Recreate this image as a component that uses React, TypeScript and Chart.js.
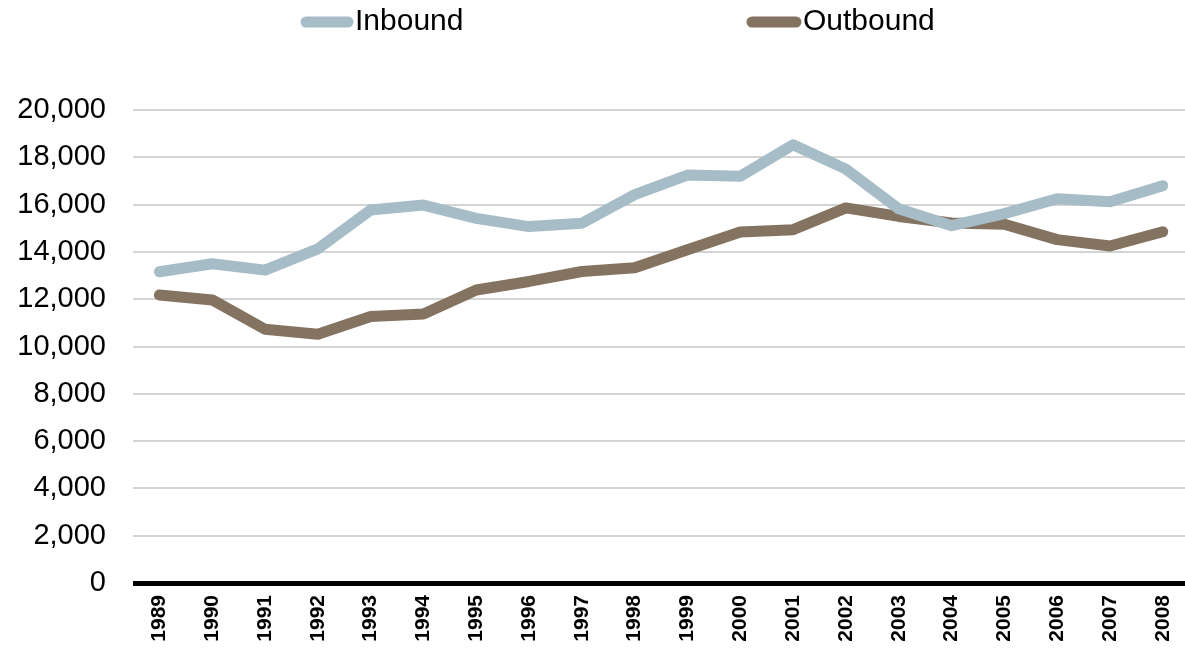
import React, { useEffect, useRef } from "react";
import { Chart, registerables } from "chart.js";

Chart.register(...registerables);

const years = ["1989", "1990", "1991", "1992", "1993", "1994", "1995", "1996", "1997", "1998", "1999", "2000", "2001", "2002", "2003", "2004", "2005", "2006", "2007", "2008"];
const inbound = [13160, 13500, 13230, 14130, 15770, 15980, 15420, 15070, 15210, 16420, 17250, 17200, 18530, 17500, 15820, 15110, 15620, 16250, 16120, 16800];
const outbound = [12180, 11970, 10730, 10520, 11270, 11370, 12390, 12750, 13170, 13330, 14090, 14840, 14940, 15860, 15500, 15220, 15170, 14520, 14250, 14850];
const seriesNames = ["Inbound", "Outbound"];
const seriesColors = ["#A6BCC6", "#857361"];

const FONT = "'Liberation Sans', Arial, sans-serif";

const legendPlugin = {
  id: "topLegend",
  afterDraw(chart: any) {
    const ctx = chart.ctx;
    const items = [
      { x1: 306, x2: 348, tx: 355 },
      { x1: 752, x2: 796, tx: 803 },
    ];
    const y = 22;
    ctx.save();
    chart.data.datasets.forEach((ds: any, i: number) => {
      const it = items[i];
      ctx.beginPath();
      ctx.strokeStyle = ds.borderColor;
      ctx.lineWidth = 11;
      ctx.lineCap = "round";
      ctx.moveTo(it.x1, y);
      ctx.lineTo(it.x2, y);
      ctx.stroke();
      ctx.fillStyle = "#000";
      ctx.font = `30px ${FONT}`;
      ctx.textBaseline = "middle";
      ctx.textAlign = "left";
      ctx.fillText(ds.label, it.tx, y);
    });
    ctx.restore();
  },
};

export default function App() {
  const ref = useRef<HTMLCanvasElement | null>(null);

  useEffect(() => {
    if (!ref.current) return;
    const chart = new Chart(ref.current, {
      type: "line",
      data: {
        labels: years,
        datasets: [
          {
            label: seriesNames[0],
            data: inbound,
            borderColor: seriesColors[0],
            backgroundColor: seriesColors[0],
            borderWidth: 11,
            borderCapStyle: "round",
            borderJoinStyle: "round",
            pointRadius: 0,
            tension: 0,
          },
          {
            label: seriesNames[1],
            data: outbound,
            borderColor: seriesColors[1],
            backgroundColor: seriesColors[1],
            borderWidth: 11,
            borderCapStyle: "round",
            borderJoinStyle: "round",
            pointRadius: 0,
            tension: 0,
          },
        ],
      },
      options: {
        animation: false,
        responsive: true,
        maintainAspectRatio: false,
        layout: { padding: { top: 110, right: 1, left: 0, bottom: 0 } },
        plugins: {
          legend: { display: false },
          tooltip: { enabled: false },
        },
        scales: {
          x: {
            offset: true,
            grid: { display: false, drawTicks: false },
            border: { display: false },
            ticks: {
              color: "#000",
              font: { family: FONT, size: 21, weight: "bold" },
              maxRotation: 90,
              minRotation: 90,
              padding: 12,
              autoSkip: false,
            },
            afterFit(scale: any) {
              scale.height = 66;
            },
          },
          y: {
            min: 0,
            max: 20000,
            grid: {
              drawTicks: false,
              color: (c: any) => (c.tick && c.tick.value === 0 ? "#000" : "#D4D4D4"),
              lineWidth: (c: any) => (c.tick && c.tick.value === 0 ? 5 : 2),
            },
            border: { display: false },
            ticks: {
              stepSize: 2000,
              color: "#000",
              font: { family: FONT, size: 29 },
              padding: 27,
              callback: (v: any) => Number(v).toLocaleString("en-US"),
            },
            afterFit(scale: any) {
              scale.width = 133;
            },
          },
        },
      },
      plugins: [legendPlugin],
    });
    return () => chart.destroy();
  }, []);

  return (
    <div style={{ position: "fixed", left: 0, top: 0, width: 1185, height: 649, overflow: "hidden", background: "#fff" }}>
      <div style={{ position: "relative", width: 1200, height: 649 }}>
        <canvas ref={ref} />
      </div>
    </div>
  );
}
